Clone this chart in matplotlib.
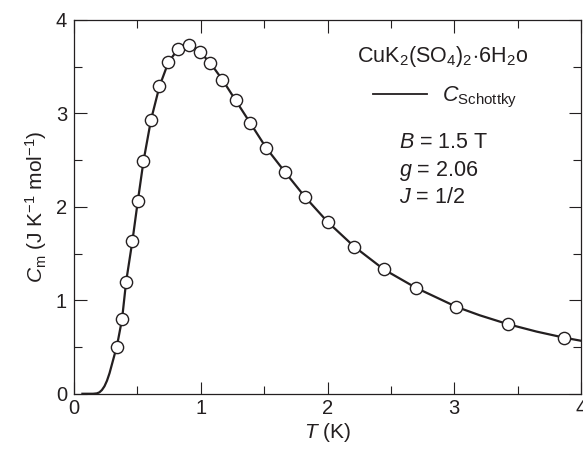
import matplotlib
matplotlib.use('Agg')
import matplotlib.pyplot as plt
from matplotlib.lines import Line2D
from matplotlib.ticker import MultipleLocator

plt.rcParams['font.family'] = ['Liberation Sans', 'DejaVu Sans']
plt.rcParams['mathtext.fontset'] = 'custom'
plt.rcParams['mathtext.rm'] = 'Liberation Sans'
plt.rcParams['mathtext.it'] = 'Liberation Sans:style=italic'

# measured points (open circles)
t_meas = [0.337, 0.379, 0.411, 0.461, 0.503, 0.548, 0.607, 0.674, 0.745, 0.822,
          0.905, 0.991, 1.075, 1.171, 1.275, 1.389, 1.517, 1.666, 1.82, 2.0,
          2.21, 2.445, 2.696, 3.017, 3.42, 3.868]
c_meas = [0.50, 0.80, 1.20, 1.64, 2.06, 2.49, 2.93, 3.29, 3.55, 3.69,
          3.73, 3.66, 3.54, 3.36, 3.14, 2.90, 2.63, 2.37, 2.11, 1.84,
          1.575, 1.33, 1.135, 0.93, 0.746, 0.60]

# Schottky curve
t_curve = [0.066, 0.15, 0.18, 0.20, 0.22, 0.24, 0.26, 0.28, 0.30, 0.32,
           0.337, 0.379, 0.411, 0.461, 0.503, 0.548, 0.607, 0.674, 0.745, 0.822,
           0.865, 0.905, 0.95, 0.991, 1.075, 1.171, 1.275, 1.389, 1.517, 1.666,
           1.82, 2.0, 2.21, 2.445, 2.696, 3.017, 3.2, 3.42, 3.65, 3.868, 4.0]
c_curve = [0.0, 0.0, 0.004, 0.015, 0.04, 0.08, 0.14, 0.22, 0.32, 0.42,
           0.50, 0.80, 1.20, 1.64, 2.06, 2.49, 2.93, 3.29, 3.55, 3.69,
           3.725, 3.73, 3.71, 3.66, 3.54, 3.36, 3.14, 2.90, 2.63, 2.37,
           2.11, 1.84, 1.575, 1.33, 1.135, 0.93, 0.84, 0.746, 0.665, 0.60, 0.567]

ink = '#231f20'

fig = plt.figure(figsize=(5.83, 4.5), dpi=100)
ax = fig.add_axes([0.127, 0.125, 0.8696, 0.8306])

ax.plot(t_curve, c_curve, color=ink, lw=1.6, solid_joinstyle='round', zorder=2)
ax.plot(t_meas, c_meas, 'o', ms=8.8, mfc='white', mec=ink, mew=1.0, zorder=3)

ax.set_xlim(0, 4)
ax.set_ylim(0, 4)
ax.xaxis.set_major_locator(MultipleLocator(1))
ax.xaxis.set_minor_locator(MultipleLocator(0.5))
ax.yaxis.set_major_locator(MultipleLocator(1))
ax.yaxis.set_minor_locator(MultipleLocator(0.5))
ax.tick_params(which='both', direction='in', top=True, right=True,
               width=0.8, color=ink, labelsize=14.5, labelcolor=ink)
ax.tick_params(which='major', length=9)
ax.tick_params(which='minor', length=5.8)
ax.tick_params(axis='x', pad=4)
ax.tick_params(axis='y', pad=5)
for s in ax.spines.values():
    s.set_linewidth(0.9)
    s.set_color(ink)

ax.set_xlabel(r'$T$ (K)', fontsize=15, color=ink, labelpad=2)
ax.set_ylabel(r'$C_\mathrm{m}$ (J K$^{-1}$ mol$^{-1}$)', fontsize=15, color=ink, labelpad=5)

ax.text(0.728, 0.888, r'CuK$_2$(SO$_4$)$_2$$\!\cdot\!$6H$_2$o', transform=ax.transAxes,
        ha='center', va='baseline', fontsize=15.5, color=ink)

handle = Line2D([], [], color=ink, lw=1.3)
ax.legend([handle], [r'$C_\mathrm{Schottky}$'], loc='center left',
          bbox_to_anchor=(0.59, 0.792), frameon=False, fontsize=15.5,
          handlelength=2.5, handletextpad=0.7, borderpad=0, borderaxespad=0,
          labelcolor=ink)

ax.text(0.641, 0.657, r'$B$ = 1.5 T', transform=ax.transAxes, va='baseline',
        fontsize=15.5, color=ink)
ax.text(0.641, 0.5825, r'$g$ = 2.06', transform=ax.transAxes, va='baseline',
        fontsize=15.5, color=ink)
ax.text(0.641, 0.5095, r'$J$ = 1/2', transform=ax.transAxes, va='baseline',
        fontsize=15.5, color=ink)

fig.savefig('out.png', dpi=100)
